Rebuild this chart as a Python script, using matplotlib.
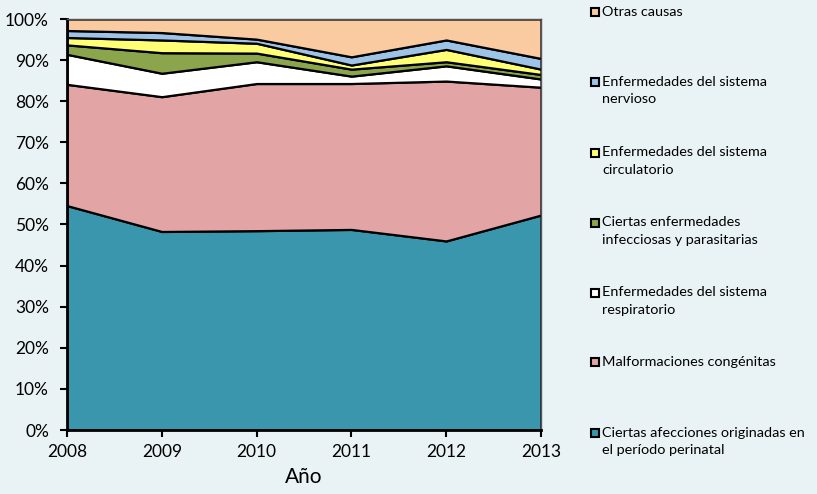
import matplotlib
matplotlib.use("Agg")
import matplotlib.pyplot as plt
from matplotlib.patches import Rectangle

plt.rcParams['font.family'] = ['Lato', 'DejaVu Sans']

years = [2008, 2009, 2010, 2011, 2012, 2013]
perinatal = [54.6, 48.3, 48.5, 48.8, 46.0, 52.3]
malformaciones = [29.5, 32.8, 35.8, 35.5, 38.9, 31.1]
respiratorio = [7.3, 5.7, 5.3, 1.8, 3.7, 2.0]
infecciosas = [2.3, 5.0, 2.1, 1.7, 1.0, 1.1]
circulatorio = [1.8, 3.1, 2.4, 1.0, 3.0, 1.3]
nervioso = [1.7, 1.8, 1.0, 2.0, 2.3, 2.6]
otras = [2.8, 3.3, 4.9, 9.2, 5.1, 9.6]

series = [perinatal, malformaciones, respiratorio, infecciosas, circulatorio, nervioso, otras]
labels = ["Ciertas afecciones originadas en\nel período perinatal",
          "Malformaciones congénitas",
          "Enfermedades del sistema\nrespiratorio",
          "Ciertas enfermedades\ninfecciosas y parasitarias",
          "Enfermedades del sistema\ncirculatorio",
          "Enfermedades del sistema\nnervioso",
          "Otras causas"]
colors = ["#3A96AC", "#E2A4A4", "#FFFFFF", "#8BA54C", "#FFFF75", "#9DC3E6", "#FACBA0"]
ytick_vals = list(range(0, 101, 10))
ytick_labels = [f"{v}%" for v in ytick_vals]

bg = "#E9F2F4"
fig = plt.figure(figsize=(8.17, 4.94), dpi=100, facecolor=bg)
ax = fig.add_axes([67/817, 1-430/494, (541-67)/817, (430-19)/494])
ax.set_facecolor(bg)
ax.stackplot(years, *series, colors=colors, edgecolor="black", linewidth=1.6)
ax.set_xlim(2008, 2013)
ax.set_ylim(0, 100)
ax.set_yticks(ytick_vals)
ax.set_yticklabels(ytick_labels, fontsize=12.5)
ax.set_xticks(years)
ax.set_xticklabels([str(y) for y in years], fontsize=12.5)
ax.tick_params(axis='both', direction='out', length=5, width=1.5, color='black')
ax.tick_params(axis='y', pad=8)
ax.tick_params(axis='x', pad=5)
for s in ['left', 'bottom']:
    ax.spines[s].set_linewidth(2)
    ax.spines[s].set_color('black')
for s in ['top', 'right']:
    ax.spines[s].set_linewidth(1)
    ax.spines[s].set_color('#555555')
ax.set_xlabel("Año", fontsize=15, labelpad=5)

# legend (manual, top to bottom)
ys = [12, 82, 153, 223, 293, 362, 433]
order = list(range(len(series)))[::-1]
for yy, i in zip(ys, order):
    fy = 1 - yy/494
    fig.patches.append(Rectangle((591/817, fy - 4/494), 8/817, 8/494,
                                 transform=fig.transFigure, facecolor=colors[i],
                                 edgecolor='black', linewidth=1.5))
    fig.text(602/817, fy + 6.5/494, labels[i], fontsize=10.4, va='top', ha='left',
             linespacing=1.55)

fig.savefig("out.png", dpi=100, facecolor=bg)
